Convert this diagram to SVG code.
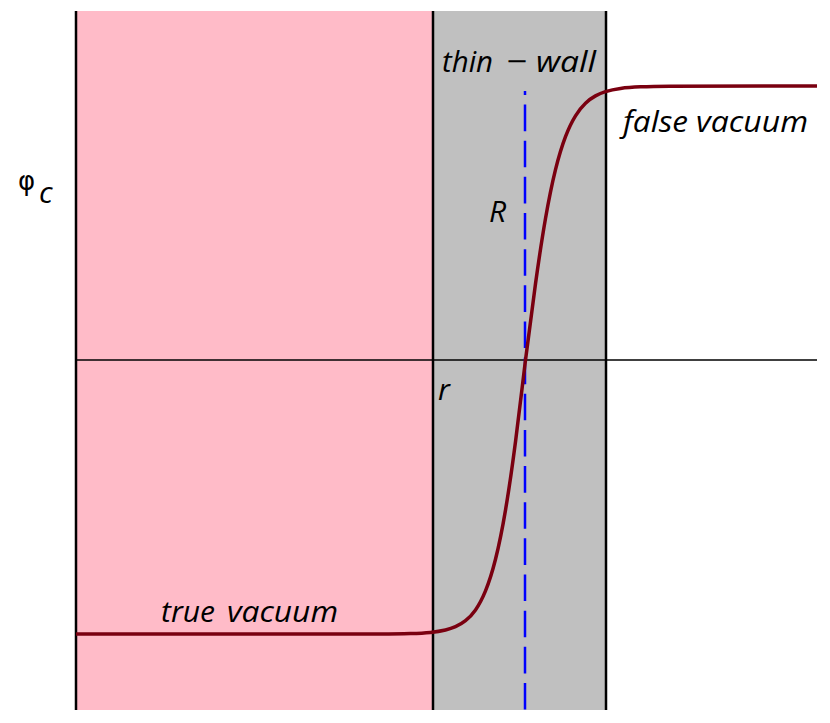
<svg xmlns="http://www.w3.org/2000/svg" width="830" height="723" viewBox="0 0 830 723">
<style>
.lbl{font-family:"Open Sans","Noto Sans","DejaVu Sans",sans-serif;font-style:italic;font-size:30px;fill:#000}
.ax{stroke:#000;stroke-width:1.5;fill:none}
.wall{stroke:#000;stroke-width:2.5;fill:none}
</style>
<rect width="830" height="723" fill="#fff"/>
<g id="true-region"><rect x="76" y="11" width="357" height="699" fill="#ffbbc8"/></g>
<g id="wall-region"><rect x="433" y="11" width="173" height="699" fill="#c0c0c0"/></g>
<g id="axes">
<line class="wall" x1="76" y1="11" x2="76" y2="710"/>
<line class="ax" x1="76" y1="360" x2="817" y2="360"/>
<line class="wall" x1="433" y1="11" x2="433" y2="710"/>
<line class="wall" x1="606" y1="11" x2="606" y2="710"/>
</g>
<g id="connectors">
<line x1="525" y1="91" x2="525" y2="710" stroke="#0000ff" stroke-width="2.5" stroke-dasharray="26.6,9.55" stroke-dashoffset="22.6"/>
<path id="curve" fill="none" stroke="#7a0010" stroke-width="3.5" d="M76 634 L380 633.93 C390.17 633.89 400.33 633.79 410.5 633.5 C417.17 633.31 423.83 633.05 430.5 632.4 C435.5 631.92 440.5 631.21 445.5 630 C448.83 629.19 452.17 628.17 455.5 626.7 C458.83 625.23 462.17 623.36 465.5 620.7 C468.83 618.04 472.17 614.63 475.5 609.9 C478.83 605.17 482.17 599.04 485.5 590.9 C488.83 582.76 492.17 572.54 495.5 559.3 C498.83 546.06 502.17 529.77 505.5 510.1 C508.83 490.43 512.17 467.3 515.5 441.7 C518.83 416.1 522.17 387 525.5 360 C528.83 333 532.17 307.88 535.5 283.8 C538.83 259.72 542.17 237.64 545.5 218.5 C548.83 199.36 552.17 183.1 555.5 169.6 C558.83 156.1 562.17 145.35 565.5 136.6 C568.83 127.85 572.17 121.16 575.5 115.8 C578.83 110.44 582.17 106.38 585.5 103.2 C588.83 100.02 592.17 97.74 595.5 95.9 C598.83 94.06 602.17 92.66 605.5 91.6 C610.5 90.01 615.5 89.08 620.5 88.4 C627.17 87.49 633.83 87.09 640.5 86.8 C650.33 86.37 660.17 86.22 670 86.14 L817 86"/>
</g>
<g id="labels">
<text class="lbl" x="442" y="72" textLength="51" lengthAdjust="spacingAndGlyphs">thin</text>
<text class="lbl" x="506" y="72" textLength="21" lengthAdjust="spacingAndGlyphs">−</text>
<text class="lbl" x="536" y="72" textLength="60" lengthAdjust="spacingAndGlyphs">wall</text>
<text class="lbl" x="623" y="132" textLength="65" lengthAdjust="spacingAndGlyphs">false</text>
<text class="lbl" x="696" y="132" textLength="112" lengthAdjust="spacingAndGlyphs">vacuum</text>
<text class="lbl" x="161" y="622" textLength="54" lengthAdjust="spacingAndGlyphs">true</text>
<text class="lbl" x="227" y="622" textLength="111" lengthAdjust="spacingAndGlyphs">vacuum</text>
<text class="lbl" x="489" y="222">R</text>
<text class="lbl" x="438" y="400">r</text>
<text x="18" y="190" font-family="DejaVu Sans,sans-serif" font-size="26">φ</text>
<text class="lbl" x="39" y="203">c</text>
</g>
</svg>
